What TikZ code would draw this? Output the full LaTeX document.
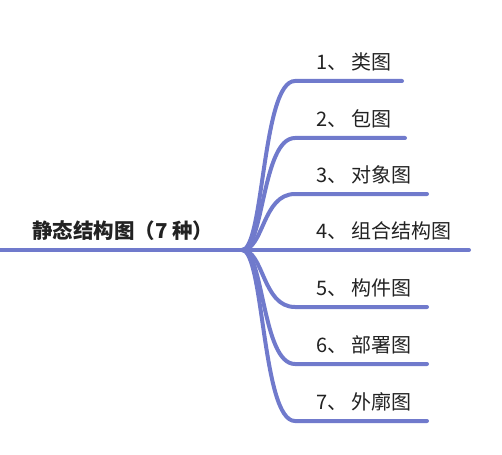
\documentclass[tikz,border=0pt]{standalone}
\usepackage{fontspec}
\newfontfamily\cjk{Noto Sans CJK SC}
\definecolor{branch}{RGB}{112,122,204}
\definecolor{txt}{RGB}{34,34,34}
\begin{document}
\begin{tikzpicture}[x=1pt,y=-1pt,
  conn/.style={draw=branch,line width=4pt,line cap=round},
  leaf/.style={anchor=west,inner sep=0pt,text=txt,font=\cjk\fontsize{20}{22}\selectfont},
  rootlbl/.style={anchor=west,inner sep=0pt,text=txt,font=\cjk\bfseries\fontsize{20.5}{22}\selectfont}]
\useasboundingbox (0,0) rectangle (502,454);
\coordinate (start) at (0,250);
\coordinate (fork) at (242,250);
\node[rootlbl] (root) at (32,231) {静态结构图（7 种）};
\draw[conn,line width=4.5pt,line cap=butt] (start) -- (fork);
\foreach \i/\y/\e/\n/\t in {1/81/402/1/类图,2/138/405/2/包图,3/194/427/3/对象图,5/307/427/5/构件图,6/364/427/6/部署图,7/421/427/7/外廓图}{
  \coordinate (b\i) at (295,\y);
  \coordinate (e\i) at (\e,\y);
  \node[leaf] (t\i) at (316,\y-19) {\n、\hspace{4pt}\t};
  \draw[conn] (fork) .. controls (264,250) and (262,\y) .. (b\i) -- (e\i);
}
\coordinate (e4) at (469,250);
\node[leaf] (t4) at (316,231) {4、\hspace{4pt}组合结构图};
\draw[conn] (fork) -- (e4);
\end{tikzpicture}
\end{document}
